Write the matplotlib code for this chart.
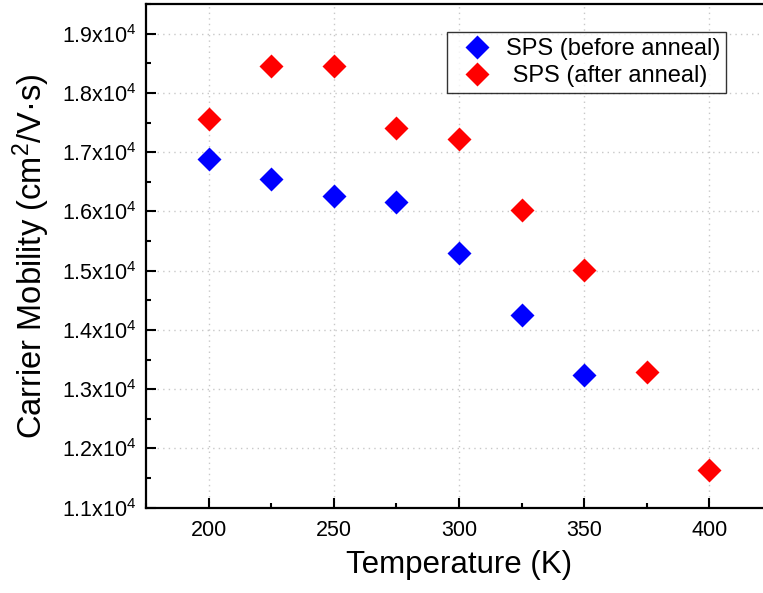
import matplotlib
matplotlib.use("Agg")
import matplotlib.pyplot as plt
from matplotlib.ticker import MultipleLocator, FuncFormatter

plt.rcParams['font.family'] = ['Liberation Sans', 'DejaVu Sans']
plt.rcParams['mathtext.fontset'] = 'custom'
plt.rcParams['mathtext.rm'] = 'Liberation Sans'
plt.rcParams['mathtext.it'] = 'Liberation Sans:italic'

temp_before = [200, 225, 250, 275, 300, 325, 350]
mob_before = [1.688, 1.654, 1.626, 1.6155, 1.5295, 1.425, 1.324]  # x10^4
temp_after = [200, 225, 250, 275, 300, 325, 350, 375, 400]
mob_after = [1.7555, 1.845, 1.845, 1.740, 1.723, 1.602, 1.501, 1.329, 1.164]  # x10^4

fig = plt.figure(figsize=(7.63, 5.93), dpi=100)
ax = fig.add_axes([146/763, 1-507.7/593, (772-146)/763, (507.7-4)/593])

ax.plot(temp_before, mob_before, 'D', color='#0000ff', ms=12.5, mec='none', label='SPS (before anneal)', zorder=3)
ax.plot(temp_after, mob_after, 'D', color='#ff0000', ms=12.5, mec='none', label=' SPS (after anneal)', zorder=3)

ax.set_xlim(175, 425)
ax.set_ylim(1.1, 1.95)
ax.xaxis.set_major_locator(MultipleLocator(50))
ax.xaxis.set_minor_locator(MultipleLocator(25))
ax.yaxis.set_major_locator(MultipleLocator(0.1))
ax.yaxis.set_minor_locator(MultipleLocator(0.05))
ax.yaxis.set_major_formatter(FuncFormatter(lambda v, p: f"{v:.1f}x10$^4$"))

ax.tick_params(which='both', direction='in', width=1.5, labelsize=15.5)
ax.tick_params(which='major', length=7)
ax.tick_params(which='minor', length=3.5)
ax.tick_params(axis='x', pad=9)
ax.tick_params(axis='y', pad=7)
for s in ax.spines.values():
    s.set_linewidth(1.6)

ax.grid(True, which='major', color='#c8c8c8', linestyle=(0, (1, 3)), linewidth=1)
ax.set_axisbelow(True)

ax.set_xlabel('Temperature (K)', fontsize=22.5, labelpad=6)
ax.set_ylabel('Carrier Mobility (cm$^2$/V·s)', fontsize=23.5, labelpad=7)

leg = ax.legend(loc='upper left', bbox_to_anchor=(447/763, 1-32/593), bbox_transform=fig.transFigure,
                fontsize=17, frameon=True, fancybox=False, edgecolor='black',
                handletextpad=0.25, borderpad=0.25, labelspacing=0.22, handlelength=2.0,
                borderaxespad=0)
leg.get_frame().set_linewidth(1.0)

fig.savefig('out.png', dpi=100)
